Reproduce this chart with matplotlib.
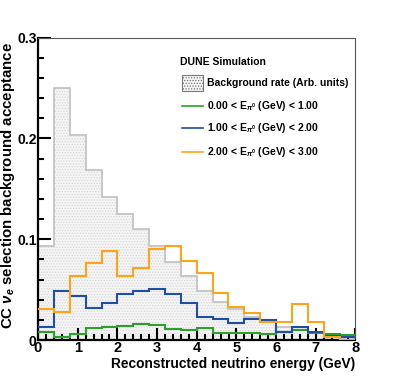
import numpy as np
import matplotlib
matplotlib.use("Agg")
import matplotlib.pyplot as plt
from matplotlib.lines import Line2D
from matplotlib.patches import Rectangle

plt.rcParams['font.family'] = ['Liberation Sans', 'DejaVu Sans']
plt.rcParams['font.weight'] = 'bold'
plt.rcParams['mathtext.fontset'] = 'custom'
plt.rcParams['mathtext.rm'] = 'Liberation Sans:bold'
plt.rcParams['mathtext.it'] = 'Liberation Sans:bold:italic'
plt.rcParams['mathtext.bf'] = 'Liberation Sans:bold'
plt.rcParams['hatch.linewidth'] = 0.6

# Data
bin_edges = [0.0, 0.4, 0.8, 1.2, 1.6, 2.0, 2.4, 2.8, 3.2, 3.6, 4.0,
             4.4, 4.8, 5.2, 5.6, 6.0, 6.4, 6.8, 7.2, 7.6, 8.0]
background_rate = [0.093, 0.250, 0.203, 0.169, 0.142, 0.1245, 0.110, 0.093, 0.0775, 0.063,
                   0.049, 0.038, 0.0305, 0.023, 0.0195, 0.013, 0.0125, 0.008, 0.006, 0.0045]
acc_0_1 = [0.0083, 0.003, 0.0063, 0.0116, 0.0129, 0.0142, 0.0156, 0.0149, 0.0112, 0.0096,
           0.012, 0.0068, 0.0072, 0.0066, 0.0058, 0.0078, 0.0099, 0.0070, 0.0063, 0.005]
acc_1_2 = [0.0129, 0.049, 0.044, 0.032, 0.0364, 0.046, 0.049, 0.0507, 0.0454, 0.0362,
           0.0225, 0.0205, 0.017, 0.021, 0.0195, 0.0075, 0.013, 0.0083, 0.0037, 0.0027]
acc_2_3 = [0.0305, 0.0275, 0.063, 0.0765, 0.088, 0.0636, 0.0718, 0.0904, 0.093, 0.0786,
           0.066, 0.047, 0.033, 0.027, 0.018, 0.018, 0.0355, 0.018, 0.0028, 0.0]
legend_labels = ['Background rate (Arb. units)',
                 r'0.00 < E$_{\pi^{0}}$ (GeV) < 1.00',
                 r'1.00 < E$_{\pi^{0}}$ (GeV) < 2.00',
                 r'2.00 < E$_{\pi^{0}}$ (GeV) < 3.00']

W, H = 395, 379
fig = plt.figure(figsize=(W / 100, H / 100), dpi=100)
ax = fig.add_axes([38 / W, (H - 340) / H, (355.5 - 38) / W, (340 - 37.5) / H])

edges = np.array(bin_edges)
ax.stairs(background_rate, edges, fill=True, facecolor='#f5f5f5', edgecolor='#d6d6d6',
          hatch='......', linewidth=0, zorder=1)
ax.stairs(background_rate, edges, fill=False, edgecolor='#c4c4c4', linewidth=1.3, zorder=2)

green, blue, orange = '#2ca02c', '#1f4ea3', '#ffa31a'
ax.stairs(acc_0_1, edges, color=green, linewidth=1.5, zorder=3, baseline=None)
ax.stairs(acc_1_2, edges, color=blue, linewidth=1.5, zorder=4, baseline=None)
ax.stairs(acc_2_3, edges, color=orange, linewidth=1.5, zorder=5, baseline=None)

ax.set_xlim(0, 8)
ax.set_ylim(0, 0.3)
ax.set_xticks(np.arange(0, 9, 1))
ax.set_xticks(np.arange(0, 8.01, 0.2), minor=True)
ax.set_yticks([0, 0.1, 0.2, 0.3])
ax.set_yticklabels(['0', '0.1', '0.2', '0.3'])
ax.set_yticks(np.arange(0, 0.301, 0.02), minor=True)
ax.tick_params(which='both', direction='in', width=1.5, colors='black',
               top=False, right=False)
ax.tick_params(axis='x', labelsize=10.5)
ax.tick_params(axis='y', labelsize=10)
ax.tick_params(which='major', length=9)
ax.tick_params(which='minor', length=4.5)
ax.tick_params(axis='x', pad=1)
ax.tick_params(axis='y', pad=1)
for lab in ax.get_xticklabels() + ax.get_yticklabels():
    lab.set_fontweight('bold')

for s in ['left', 'bottom']:
    ax.spines[s].set_linewidth(1.6)
    ax.spines[s].set_color('black')
for s in ['top', 'right']:
    ax.spines[s].set_linewidth(0.8)
    ax.spines[s].set_color('#555555')

ax.set_xlabel('Reconstructed neutrino energy (GeV)', fontsize=9.9, fontweight='bold', loc='right')
ax.xaxis.set_label_coords(1.0, -0.055)
ax.set_ylabel(r'CC $\nu_{e}$ selection background acceptance', fontsize=10.8,
              fontweight='bold', loc='top')
ax.yaxis.set_label_coords(-0.066, 0.985)

# Legend (manual, in figure pixel coords)
def fx(px):
    return px / W

def fy(py):
    return (H - py) / H

fig.text(fx(180), fy(62), 'DUNE Simulation', fontsize=7.5, fontweight='bold', va='center', ha='left')
fig.patches.append(Rectangle((fx(182), fy(91)), fx(203) - fx(182), fy(75) - fy(91),
                             transform=fig.transFigure, facecolor='#f5f5f5', edgecolor='#777777',
                             hatch='......', linewidth=0.8))
fig.text(fx(207), fy(83), legend_labels[0], fontsize=7.5, fontweight='bold', va='center', ha='left')
for yy, c, lab in zip([106, 128, 152], [green, blue, orange], legend_labels[1:]):
    fig.lines.append(Line2D([fx(182), fx(203)], [fy(yy), fy(yy)], transform=fig.transFigure,
                            color=c, linewidth=1.2))
    fig.text(fx(207), fy(yy), lab, fontsize=7.5, fontweight='bold', va='center', ha='left')

fig.savefig('out.png', dpi=100)
